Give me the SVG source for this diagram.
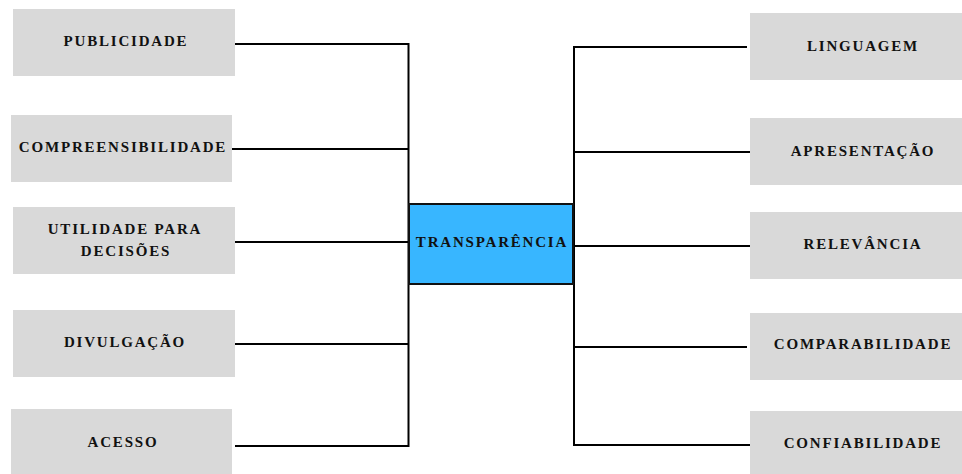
<svg xmlns="http://www.w3.org/2000/svg" width="962" height="474" viewBox="0 0 962 474">
<style>
.box{fill:#d9d9d9}
.center{fill:#38b6ff;stroke:#111;stroke-width:2}
.t{font-family:"Liberation Serif","DejaVu Serif","Times New Roman",serif;font-weight:700;font-size:15px;letter-spacing:1.8px;fill:#111;text-anchor:middle}
.c{stroke:#000;stroke-width:2;fill:none}
</style>
<rect width="962" height="474" fill="#fff"/>
<g id="connectors">
<line class="c" x1="408.5" y1="43" x2="408.5" y2="447"/>
<line class="c" x1="235" y1="44" x2="409" y2="44"/>
<line class="c" x1="232" y1="149" x2="409" y2="149"/>
<line class="c" x1="235" y1="242" x2="409" y2="242"/>
<line class="c" x1="235" y1="344" x2="409" y2="344"/>
<line class="c" x1="235" y1="446" x2="409" y2="446"/>
<line class="c" x1="574" y1="46" x2="574" y2="446"/>
<line class="c" x1="574" y1="47" x2="747" y2="47"/>
<line class="c" x1="574" y1="152" x2="750" y2="152"/>
<line class="c" x1="574" y1="246" x2="750" y2="246"/>
<line class="c" x1="574" y1="347" x2="747" y2="347"/>
<line class="c" x1="574" y1="445" x2="750" y2="445"/>
</g>
<g id="transparencia">
<rect class="center" x="409" y="204" width="164" height="80"/>
<text class="t" x="492" y="247">TRANSPARÊNCIA</text>
</g>
<g id="publicidade">
<rect class="box" x="13" y="9" width="222" height="67"/>
<text class="t" x="126" y="46">PUBLICIDADE</text>
</g>
<g id="compreensibilidade">
<rect class="box" x="11" y="115" width="221" height="67"/>
<text class="t" x="123" y="152">COMPREENSIBILIDADE</text>
</g>
<g id="utilidade">
<rect class="box" x="13" y="207" width="222" height="67"/>
<text class="t" x="125" y="234">UTILIDADE PARA</text>
<text class="t" x="126" y="256">DECISÕES</text>
</g>
<g id="divulgacao">
<rect class="box" x="13" y="310" width="222" height="67"/>
<text class="t" x="125" y="347">DIVULGAÇÃO</text>
</g>
<g id="acesso">
<rect class="box" x="11" y="409" width="221" height="66"/>
<text class="t" x="123" y="447">ACESSO</text>
</g>
<g id="linguagem">
<rect class="box" x="750" y="13" width="212" height="67"/>
<text class="t" x="863" y="51">LINGUAGEM</text>
</g>
<g id="apresentacao">
<rect class="box" x="750" y="118" width="212" height="67"/>
<text class="t" x="863" y="156">APRESENTAÇÃO</text>
</g>
<g id="relevancia">
<rect class="box" x="750" y="212" width="212" height="67"/>
<text class="t" x="863" y="249">RELEVÂNCIA</text>
</g>
<g id="comparabilidade">
<rect class="box" x="750" y="313" width="212" height="67"/>
<text class="t" x="863" y="349">COMPARABILIDADE</text>
</g>
<g id="confiabilidade">
<rect class="box" x="750" y="411" width="212" height="64"/>
<text class="t" x="863" y="448">CONFIABILIDADE</text>
</g>
</svg>
